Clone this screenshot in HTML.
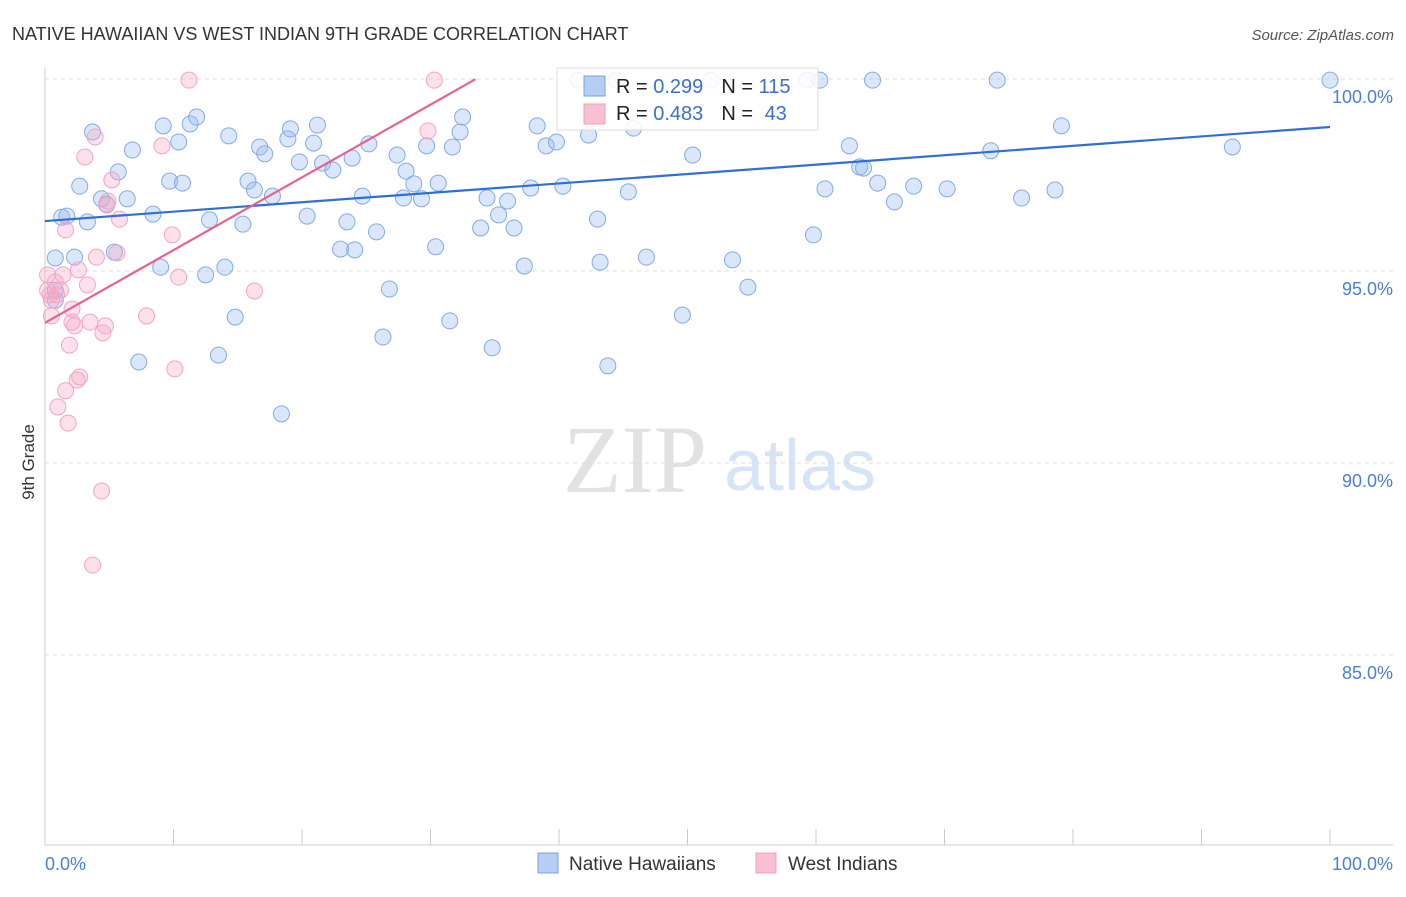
<!DOCTYPE html>
<html><head><meta charset="utf-8"><style>
body{margin:0;background:#fff;font-family:"Liberation Sans",sans-serif;}
svg text{font-family:"Liberation Sans",sans-serif;}
</style></head><body>
<svg id="chart" width="1406" height="892" viewBox="0 0 1406 892">
<text x="12" y="40" font-size="18" fill="#333">NATIVE HAWAIIAN VS WEST INDIAN 9TH GRADE CORRELATION CHART</text>
<text x="1394" y="40" font-size="15" fill="#555" text-anchor="end" font-style="italic">Source: ZipAtlas.com</text>
<text x="34" y="462" font-size="17" fill="#333" text-anchor="middle" transform="rotate(-90 34 462)">9th Grade</text>
<g>
<text x="635" y="492" font-size="96" fill="#e2e2e2" text-anchor="middle" style="font-family:'Liberation Serif',serif">ZIP</text>
<text x="800" y="490" font-size="72" fill="#d6e4f6" text-anchor="middle">atlas</text>
</g>
<g id="grid"></g><g id="axes"></g><g id="pts"></g><g id="lines"></g>
<g>
<rect x="557" y="68" width="261" height="62" fill="#fff" fill-opacity="0.85" stroke="#ddd"/>
<rect x="584" y="76" width="21" height="20" fill="#b6cdf4" stroke="#7aa3e0"/>
<rect x="584" y="104" width="21" height="20" fill="#f8c0d2" stroke="#f0a0bf"/>
<text x="616" y="93" font-size="20" fill="#222">R = <tspan fill="#3b6fd0">0.299</tspan><tspan dx="18">N = </tspan><tspan fill="#3b6fd0">115</tspan></text>
<text x="616" y="120" font-size="20" fill="#222">R = <tspan fill="#3b6fd0">0.483</tspan><tspan dx="18">N = </tspan><tspan fill="#3b6fd0" dx="6">43</tspan></text>
</g>
<g>
<rect x="538" y="853" width="20" height="20" fill="#b6cdf4" stroke="#7aa3e0"/>
<text x="569" y="870" font-size="19" fill="#333">Native Hawaiians</text>
<rect x="756" y="853" width="20" height="20" fill="#f8c0d2" stroke="#f0a0bf"/>
<text x="788" y="870" font-size="19" fill="#333">West Indians</text>
</g>
</svg>
<script>
const blueX=[0.8,0.8,1.3,1.7,2.3,2.7,3.3,3.7,4.4,4.8,5.7,5.4,6.4,6.8,7.3,8.4,9.0,9.2,9.7,10.4,10.7,11.3,11.8,12.5,12.8,13.5,14.0,14.3,14.8,15.4,15.8,16.3,16.7,17.1,17.7,18.4,18.9,19.1,19.8,20.4,20.9,21.2,21.6,22.4,23.0,23.5,23.9,24.1,24.7,25.2,25.8,26.3,26.8,27.4,28.1,27.9,28.7,29.3,29.7,30.4,30.6,31.5,31.7,32.3,32.5,33.9,34.4,34.8,35.3,36.0,36.5,37.3,37.8,38.3,39.0,39.8,40.3,41.5,42.3,43.0,43.2,43.8,44.5,45.4,45.8,46.8,49.6,50.4,51.8,53.5,54.7,59.3,59.8,60.3,60.7,62.6,63.4,63.7,64.4,64.8,66.1,67.6,70.2,73.6,74.1,76.0,78.6,79.1,92.4,100,0.8];
const blueY=[95.34,94.5,96.4,96.43,95.36,97.21,96.28,98.62,96.88,96.74,97.58,95.49,96.88,98.15,92.63,96.48,95.1,98.78,97.34,98.36,97.29,98.83,99.01,94.9,96.33,92.81,95.1,98.52,93.8,96.22,97.34,97.11,98.23,98.05,96.95,91.28,98.44,98.7,97.84,96.43,98.33,98.8,97.81,97.63,95.57,96.28,97.94,95.55,96.95,98.31,96.02,93.28,94.53,98.02,97.6,96.9,97.27,96.88,98.26,95.63,97.29,93.7,98.23,98.62,99.01,96.12,96.9,93.0,96.46,96.82,96.12,95.13,97.16,98.78,98.26,98.36,97.21,99.97,98.54,96.35,95.23,92.53,99.97,97.06,98.72,95.36,93.85,98.02,99.97,95.29,94.58,99.97,95.94,99.97,97.14,98.26,97.71,97.68,99.97,97.29,96.8,97.21,97.14,98.13,99.97,96.9,97.11,98.78,98.23,99.97,94.24];
const pinkX=[0.2,0.4,0.8,0.9,1.2,1.4,1.6,1.8,1.9,2.1,2.1,2.3,2.5,2.7,3.1,3.3,3.5,3.9,4.0,4.4,3.7,4.5,4.7,4.9,5.2,5.6,5.8,7.9,9.1,9.9,10.1,10.4,11.2,16.3,29.8,30.3,1.0,0.5,2.6,1.6,0.2,0.5,4.8];
const pinkY=[94.9,94.38,94.71,94.38,94.5,94.9,96.07,91.04,93.07,94.01,93.67,93.57,92.16,92.24,97.97,94.64,93.67,98.49,95.36,89.27,87.34,93.39,93.57,96.82,97.37,95.47,96.35,93.83,98.26,95.94,92.45,94.84,99.97,94.48,98.65,99.97,91.46,93.83,95.03,91.88,94.5,94.24,96.72];
const trendIntercept=[96.3,93.65];
const trendSlope=[0.0245,0.1894];
const trendEnd=[100,33.5];
const yTicks=[100,95,90,85];
const yTickLabels=["100.0%","95.0%","90.0%","85.0%"];
const xTicks=[0,10,20,30,40,50,60,70,80,90,100];

const NS="http://www.w3.org/2000/svg";
const X=v=>45+v*12.85, Y=v=>79+(100-v)*38.4;
function mk(tag,attrs,parent){const e=document.createElementNS(NS,tag);for(const k in attrs)e.setAttribute(k,attrs[k]);document.getElementById(parent).appendChild(e);return e;}
yTicks.forEach((t,i)=>{
 const g=mk('line',{x1:45,x2:1393,y1:Y(t),y2:Y(t),stroke:'#ddd','stroke-dasharray':'4 4'},'grid');
 
 
 const l=mk('text',{x:1393,y:Y(t)+24,'font-size':18,fill:'#4a7fd6','text-anchor':'end'},'axes');
 l.textContent=yTickLabels[i];
 
 
});
const ax=mk('line',{x1:45,x2:45,y1:68,y2:845,stroke:'#ccc'},'axes');


const bx=mk('line',{x1:45,x2:1393,y1:845,y2:845,stroke:'#ccc'},'axes');


xTicks.forEach(t=>{
 const k=mk('line',{x1:X(t),x2:X(t),y1:829,y2:845,stroke:'#ccc'},'axes');
 
 
});
const xl0=mk('text',{x:45,y:870,'font-size':18,fill:'#4a7fd6'},'axes');xl0.textContent='0.0%';


const xl1=mk('text',{x:1393,y:870,'font-size':18,fill:'#4a7fd6','text-anchor':'end'},'axes');xl1.textContent='100.0%';


blueX.forEach((v,i)=>{
 const c=mk('circle',{cx:X(v),cy:Y(blueY[i]),r:8,fill:'rgba(150,185,240,0.35)',stroke:'#86aae2','stroke-width':1},'pts');
 
 
});
pinkX.forEach((v,i)=>{
 const c=mk('circle',{cx:X(v),cy:Y(pinkY[i]),r:8,fill:'rgba(245,170,200,0.35)',stroke:'#f0a6c2','stroke-width':1},'pts');
 
 
});
const cols=['#2f6fd6','#e8628f'];
trendIntercept.forEach((b,i)=>{
 const l=mk('line',{x1:X(0),y1:Y(b),x2:X(trendEnd[i]),y2:Y(b+trendSlope[i]*trendEnd[i]),stroke:cols[i],'stroke-width':2.2},'lines');
 
 
});
</script>
</body></html>
